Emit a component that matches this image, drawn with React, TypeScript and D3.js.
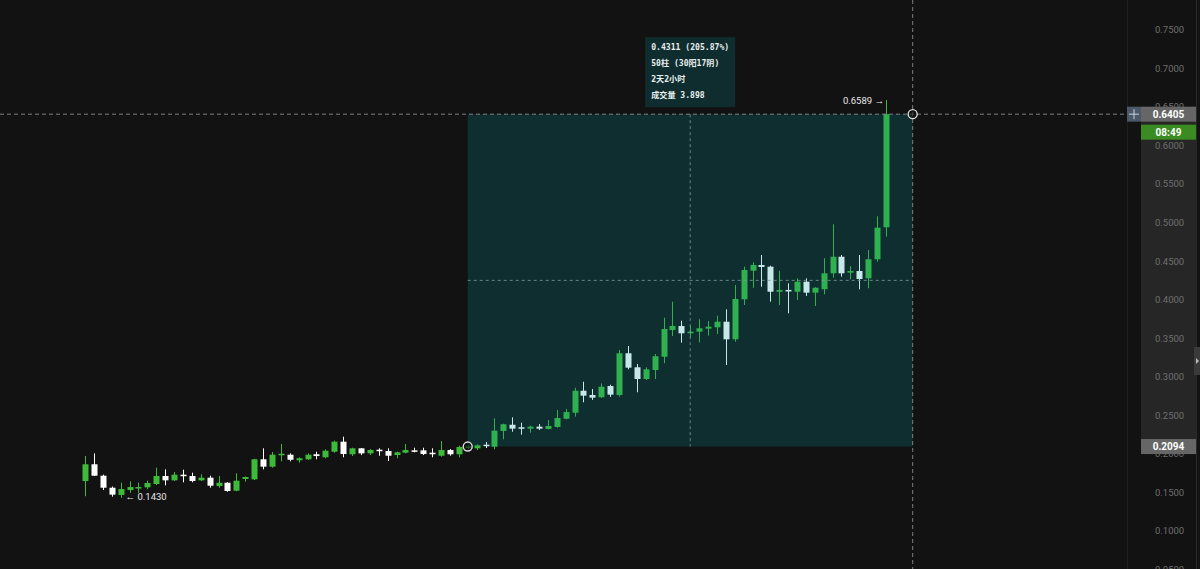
import React, { useEffect, useRef } from 'react';
import * as d3 from 'd3';

// OHLC per bar
const opens = [
  0.1647, 0.1864, 0.1716, 0.1560, 0.1466, 0.1530, 0.1556, 0.1565, 0.1608, 0.1712,
  0.1656, 0.1729, 0.1712, 0.1656, 0.1690, 0.1582, 0.1625, 0.1521, 0.1673, 0.1669,
  0.1929, 0.1833, 0.1981, 0.1988, 0.1916, 0.1929, 0.1994, 0.1955, 0.2027, 0.2157,
  0.1994, 0.2071, 0.2006, 0.2053, 0.2036, 0.1984, 0.2014, 0.2045, 0.2045, 0.2014,
  0.1975, 0.2049, 0.1994, 0.2088, 0.2071, 0.2118, 0.2092, 0.2296, 0.2377, 0.2344,
  0.2326, 0.2352, 0.2322, 0.2348, 0.2455, 0.2533, 0.2818, 0.2763, 0.2733, 0.2879,
  0.2763, 0.3304, 0.3122, 0.2970, 0.3087, 0.3259, 0.3606, 0.3658, 0.3563, 0.3584,
  0.3623, 0.3641, 0.3713, 0.3485, 0.4004, 0.4375, 0.4449, 0.4427, 0.4102, 0.4125,
  0.4102, 0.4232, 0.4090, 0.4134, 0.4341, 0.4556, 0.4349, 0.4371, 0.4276, 0.4523,
  0.4938,
];
const highs = [
  0.1971, 0.2006, 0.1730, 0.1575, 0.1625, 0.1643, 0.1625, 0.1651, 0.1820, 0.1799,
  0.1764, 0.1794, 0.1755, 0.1734, 0.1716, 0.1712, 0.1630, 0.1747, 0.1706, 0.1935,
  0.2071, 0.2023, 0.2127, 0.2006, 0.1955, 0.2006, 0.2027, 0.2058, 0.2170, 0.2222,
  0.2079, 0.2075, 0.2062, 0.2071, 0.2071, 0.2027, 0.2127, 0.2079, 0.2079, 0.2071,
  0.2166, 0.2062, 0.2105, 0.2110, 0.2123, 0.2153, 0.2460, 0.2390, 0.2473, 0.2403,
  0.2364, 0.2386, 0.2438, 0.2568, 0.2581, 0.2857, 0.2935, 0.2840, 0.2914, 0.2896,
  0.3346, 0.3398, 0.3165, 0.3122, 0.3294, 0.3765, 0.3973, 0.3726, 0.3658, 0.3745,
  0.3722, 0.3791, 0.3874, 0.4189, 0.4427, 0.4484, 0.4578, 0.4440, 0.4375, 0.4211,
  0.4276, 0.4276, 0.4160, 0.4536, 0.4977, 0.4578, 0.4436, 0.4578, 0.4643, 0.5080,
  0.6589,
];
const lows = [
  0.1450, 0.1712, 0.1530, 0.1444, 0.1430, 0.1495, 0.1495, 0.1540, 0.1595, 0.1591,
  0.1647, 0.1630, 0.1630, 0.1647, 0.1560, 0.1560, 0.1508, 0.1515, 0.1638, 0.1660,
  0.1799, 0.1820, 0.1903, 0.1903, 0.1885, 0.1920, 0.1929, 0.1942, 0.2014, 0.1955,
  0.1971, 0.1984, 0.1984, 0.1975, 0.1907, 0.1942, 0.2006, 0.2019, 0.1984, 0.1955,
  0.1962, 0.1975, 0.1955, 0.2060, 0.2049, 0.2075, 0.2058, 0.2188, 0.2287, 0.2248,
  0.2274, 0.2309, 0.2318, 0.2339, 0.2447, 0.2481, 0.2668, 0.2698, 0.2724, 0.2737,
  0.2741, 0.3096, 0.2798, 0.2957, 0.2970, 0.3174, 0.3528, 0.3441, 0.3511, 0.3446,
  0.3532, 0.3554, 0.3152, 0.3454, 0.3930, 0.4154, 0.4167, 0.3973, 0.3930, 0.3822,
  0.3995, 0.4047, 0.3917, 0.4069, 0.4284, 0.4297, 0.4263, 0.4134, 0.4147, 0.4492,
  0.4816,
];
const closes = [
  0.1864, 0.1716, 0.1560, 0.1470, 0.1543, 0.1569, 0.1569, 0.1621, 0.1712, 0.1656,
  0.1729, 0.1712, 0.1647, 0.1690, 0.1586, 0.1625, 0.1518, 0.1651, 0.1699, 0.1929,
  0.1833, 0.1988, 0.2001, 0.1923, 0.1942, 0.1988, 0.1971, 0.2040, 0.2157, 0.1997,
  0.2071, 0.2006, 0.2049, 0.2036, 0.1975, 0.2019, 0.2049, 0.2027, 0.1997, 0.1994,
  0.2049, 0.1994, 0.2088, 0.2094, 0.2110, 0.2105, 0.2300, 0.2383, 0.2326, 0.2326,
  0.2352, 0.2326, 0.2361, 0.2464, 0.2542, 0.2818, 0.2754, 0.2728, 0.2870, 0.2767,
  0.3304, 0.3117, 0.2970, 0.3096, 0.3265, 0.3619, 0.3658, 0.3563, 0.3584, 0.3628,
  0.3649, 0.3713, 0.3485, 0.4008, 0.4384, 0.4449, 0.4423, 0.4102, 0.4125, 0.4112,
  0.4232, 0.4090, 0.4154, 0.4341, 0.4556, 0.4341, 0.4371, 0.4267, 0.4523, 0.4933,
  0.6405,
];

const priceTicks = [0.05, 0.1, 0.15, 0.2, 0.25, 0.3, 0.35, 0.4, 0.45, 0.5, 0.55, 0.6, 0.65, 0.7, 0.75];

// measured range
const rangeStartBar = 43;
const rangeEndBar = 93;
const rangeStartPrice = 0.2094;
const rangeEndPrice = 0.6405;
const rangeLines = ['0.4311 (205.87%)', '50柱 (30阳17阴)', '2天2小时', '成交量 3.898'];
const countdown = '08:49';
const maxLabel = '0.6589 →';
const minLabel = '← 0.1430';
const maxBar = 90;
const minBar = 4;

const UP = '#3dba3a';
const DOWN = '#ffffff';
const BG = '#121212';

const App: React.FC = () => {
  const ref = useRef<SVGSVGElement | null>(null);

  useEffect(() => {
    if (!ref.current) return;
    const svg = d3.select(ref.current);
    svg.selectAll('*').remove();

    const W = 1200, H = 569;
    const x = d3.scaleLinear().domain([0, 90]).range([85, 886]);
    const y = d3.scaleLinear().domain([0, 0.75]).range([608, 29.75]);
    const bw = 6;

    svg.append('rect').attr('width', W).attr('height', H).attr('fill', BG);

    const bars = d3.range(opens.length).map(i => ({
      i, o: opens[i], h: highs[i], l: lows[i], c: closes[i],
    }));

    const g = svg.append('g');
    const candle = g.selectAll('g.c').data(bars).enter().append('g').attr('class', 'c');
    candle.append('line')
      .attr('x1', d => Math.round(x(d.i)) + 0.5)
      .attr('x2', d => Math.round(x(d.i)) + 0.5)
      .attr('y1', d => y(d.h))
      .attr('y2', d => y(d.l))
      .attr('stroke', d => (d.c >= d.o ? UP : DOWN))
      .attr('stroke-width', 1);
    candle.append('rect')
      .attr('x', d => Math.round(x(d.i)) + 0.5 - bw / 2)
      .attr('width', bw)
      .attr('y', d => y(Math.max(d.o, d.c)))
      .attr('height', d => Math.max(1.5, Math.abs(y(d.o) - y(d.c))))
      .attr('fill', d => (d.c >= d.o ? UP : DOWN));

    // range selection overlay
    const x0 = x(rangeStartBar), x1 = x(rangeEndBar);
    const y0 = y(rangeStartPrice), y1 = y(rangeEndPrice);
    svg.append('rect')
      .attr('x', x0).attr('y', y1)
      .attr('width', x1 - x0).attr('height', y0 - y1)
      .attr('fill', 'rgb(0,145,154)').attr('fill-opacity', 0.22);

    const midX = (x0 + x1) / 2, midY = (y0 + y1) / 2;
    svg.append('line').attr('x1', midX).attr('x2', midX).attr('y1', y1).attr('y2', y0)
      .attr('stroke', '#7f9a9c').attr('stroke-width', 0.8).attr('stroke-dasharray', '3,3');
    svg.append('line').attr('x1', x0).attr('x2', x1).attr('y1', midY).attr('y2', midY)
      .attr('stroke', '#7f9a9c').attr('stroke-width', 0.8).attr('stroke-dasharray', '3,3');

    // crosshair
    svg.append('line').attr('x1', 0).attr('x2', 1127).attr('y1', y1).attr('y2', y1)
      .attr('stroke', '#9a9a9a').attr('stroke-width', 0.8).attr('stroke-dasharray', '4,3');
    svg.append('line').attr('x1', x1).attr('x2', x1).attr('y1', 0).attr('y2', H)
      .attr('stroke', '#9a9a9a').attr('stroke-width', 0.8).attr('stroke-dasharray', '4,3');

    // range tooltip
    const tw = 90, th = 70;
    const tip = svg.append('g').attr('transform', `translate(${midX - tw / 2},${y1 - 7 - th})`);
    tip.append('rect').attr('width', tw).attr('height', th).attr('fill', '#0f2d2f');
    tip.selectAll('text').data(rangeLines).enter().append('text')
      .attr('x', 6).attr('y', (_, i) => 13 + i * 16)
      .attr('fill', '#e8eeee')
      .attr('font-family', '"DejaVu Sans Mono", "Noto Sans CJK SC", monospace')
      .attr('font-size', 8.1).attr('font-weight', 'bold')
      .text(d => d);

    // handles
    [[x0, y0], [x1, y1]].forEach(([cx, cy]) => {
      svg.append('circle').attr('cx', cx).attr('cy', cy).attr('r', 4.5)
        .attr('fill', BG).attr('fill-opacity', 0.6)
        .attr('stroke', '#dcdcdc').attr('stroke-width', 1.4);
    });

    // max / min markers
    svg.append('text').attr('x', x(maxBar) - 2).attr('y', y(highs[maxBar]) + 4)
      .attr('text-anchor', 'end').attr('fill', '#e6e6e6')
      .attr('font-family', 'Roboto, sans-serif').attr('font-size', 9.5).text(maxLabel);
    svg.append('text').attr('x', x(minBar) + 5).attr('y', y(lows[minBar]) + 2)
      .attr('text-anchor', 'start').attr('fill', '#e6e6e6')
      .attr('font-family', 'Roboto, sans-serif').attr('font-size', 9.5).text(minLabel);

    // price axis
    svg.append('line').attr('x1', 1127.5).attr('x2', 1127.5).attr('y1', 0).attr('y2', H)
      .attr('stroke', '#1f1f1f');
    svg.append('line').attr('x1', 1196.5).attr('x2', 1196.5).attr('y1', 0).attr('y2', H)
      .attr('stroke', '#2a2a2a');
    svg.append('rect').attr('x', 1141).attr('y', y1).attr('width', 55).attr('height', y0 - y1)
      .attr('fill', '#262626');

    const axis = svg.append('g').attr('transform', 'translate(1148,0)')
      .call(d3.axisRight(y).tickValues(priceTicks).tickFormat(d3.format('.4f')).tickSize(0).tickPadding(7));
    axis.select('.domain').remove();
    axis.selectAll('text')
      .attr('fill', '#6f6f6f').attr('font-family', 'Roboto, sans-serif').attr('font-size', 9.5);

    const label = (yy: number, fill: string, txt: string, color: string) => {
      svg.append('rect').attr('x', 1141).attr('y', yy - 7.5).attr('width', 55).attr('height', 15)
        .attr('fill', fill);
      svg.append('text').attr('x', 1168.5).attr('y', yy + 3.5).attr('text-anchor', 'middle')
        .attr('fill', color).attr('font-family', 'Roboto, sans-serif').attr('font-size', 10)
        .attr('font-weight', 'bold').text(txt);
    };
    label(y1, '#666666', d3.format('.4f')(rangeEndPrice), '#ffffff');
    label(y1 + 18, '#3a8c22', countdown, '#ffffff');
    label(y0, '#666666', d3.format('.4f')(rangeStartPrice), '#ffffff');

    // "+" button
    svg.append('rect').attr('x', 1127).attr('y', y1 - 7.5).attr('width', 14).attr('height', 15)
      .attr('fill', '#4a5868');
    svg.append('path').attr('d', `M1129,${y1}H1139M1134,${y1 - 5}V${y1 + 5}`)
      .attr('stroke', '#c9d2dc').attr('stroke-width', 1);

    // side handle
    svg.append('rect').attr('x', 1194).attr('y', 347).attr('width', 6).attr('height', 28)
      .attr('fill', '#3a3a3a');
    svg.append('path').attr('d', 'M1196,358L1199,361L1196,364Z').attr('fill', '#bbbbbb');
  }, []);

  return (
    <svg ref={ref} width="1200" height="569" style={{ position: 'fixed', left: 0, top: 0 }}></svg>
  );
};

export default App;
